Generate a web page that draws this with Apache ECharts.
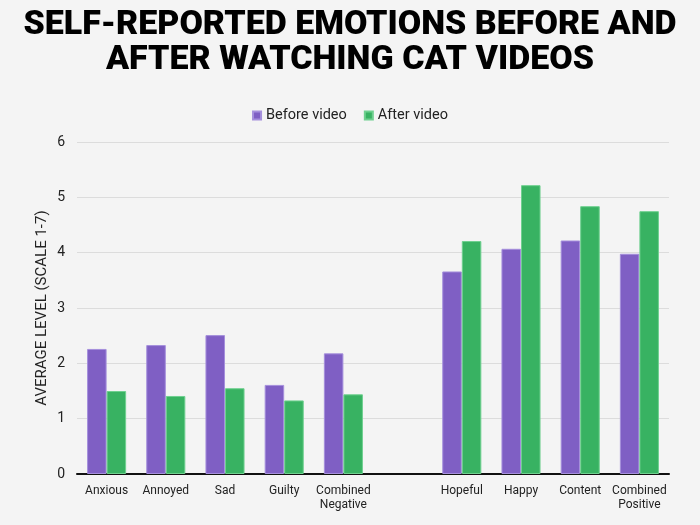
<!DOCTYPE html>
<html>
<head>
<meta charset="utf-8">
<script src="https://cdn.jsdelivr.net/npm/echarts@6/dist/echarts.min.js"></script>
<style>
html,body{margin:0;padding:0;background:#f4f4f4;}
#chart{width:700px;height:525px;}
</style>
</head>
<body>
<div id="chart"></div>
<script>
var categories = ['Anxious', 'Annoyed', 'Sad', 'Guilty', 'Combined\nNegative', '', 'Hopeful', 'Happy', 'Content', 'Combined\nPositive'];
var beforeVideo = [2.26, 2.33, 2.51, 1.61, 2.18, '-', 3.66, 4.07, 4.22, 3.98];
var afterVideo = [1.50, 1.41, 1.55, 1.33, 1.44, '-', 4.21, 5.22, 4.84, 4.75];
var seriesNames = ['Before video', 'After video'];
var yTicks = [0, 6, 1];

var chart = echarts.init(document.getElementById('chart'));
chart.setOption({
  backgroundColor: '#f4f4f4',
  animation: false,
  title: {
    text: 'SELF-REPORTED EMOTIONS BEFORE AND\nAFTER WATCHING CAT VIDEOS',
    left: 'center',
    top: 3,
    textStyle: {
      fontFamily: 'Roboto',
      fontWeight: 900,
      fontSize: 34,
      lineHeight: 35,
      color: '#000'
    }
  },
  legend: {
    top: 103,
    left: 'center',
    itemWidth: 8,
    itemHeight: 8,
    itemGap: 17,
    icon: 'rect',
    textStyle: { fontFamily: 'Roboto', fontSize: 14.5, color: '#222' },
    data: seriesNames
  },
  grid: { left: 77, right: 31, top: 142, bottom: 51, containLabel: false },
  xAxis: {
    type: 'category',
    data: categories,
    axisLine: { show: true, lineStyle: { color: '#111', width: 2 } },
    axisTick: { show: false },
    axisLabel: { fontFamily: 'Roboto', fontSize: 12, color: '#222', interval: 0, lineHeight: 14, margin: 10 }
  },
  yAxis: {
    type: 'value',
    min: yTicks[0],
    max: yTicks[1],
    interval: yTicks[2],
    name: 'AVERAGE LEVEL (SCALE 1-7)',
    nameLocation: 'middle',
    nameGap: 27,
    nameMoveOverlap: false,
    nameTextStyle: { fontFamily: 'Roboto', fontSize: 15, color: '#222' },
    axisLine: { show: false },
    axisTick: { show: false },
    axisLabel: { fontFamily: 'Roboto', fontSize: 14, color: '#222', margin: 12 },
    splitLine: { lineStyle: { color: '#dcdcdc', width: 1 } }
  },
  series: [
    {
      name: seriesNames[0],
      type: 'bar',
      data: beforeVideo,
      barGap: '0%',
      barCategoryGap: '34%',
      itemStyle: { color: '#7f5fc4', borderColor: '#a58fdc', borderWidth: 1 }
    },
    {
      name: seriesNames[1],
      type: 'bar',
      data: afterVideo,
      barGap: '0%',
      barCategoryGap: '34%',
      itemStyle: { color: '#38b262', borderColor: '#6fd08f', borderWidth: 1 }
    }
  ]
});
</script>
</body>
</html>
